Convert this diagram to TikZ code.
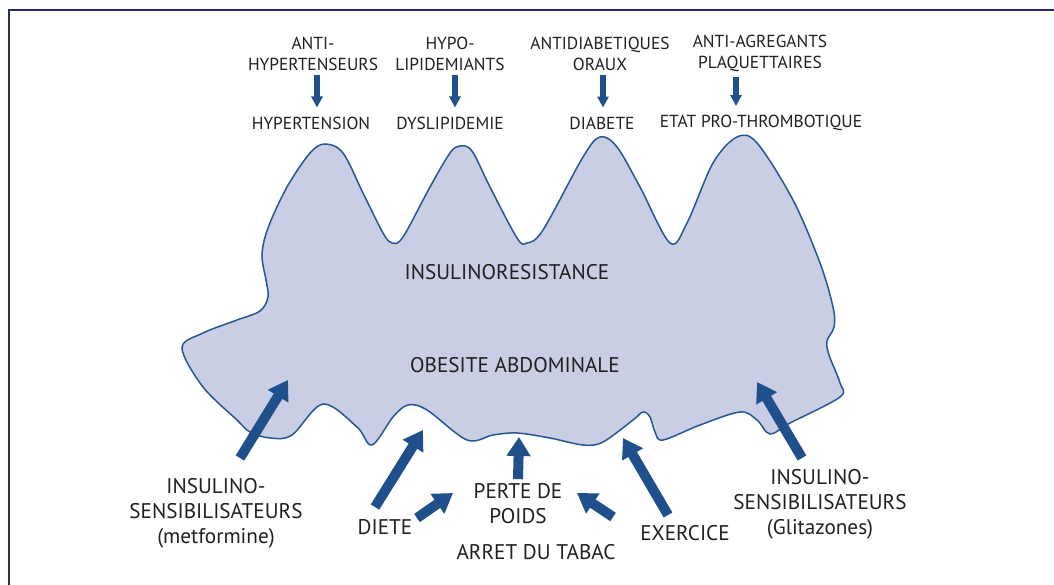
\documentclass[tikz,border=0pt]{standalone}
\usepackage{fontspec}
\setmainfont{PT Sans}
\usetikzlibrary{arrows.meta}
\definecolor{blobfill}{RGB}{201,206,229}
\definecolor{blobline}{RGB}{40,86,148}
\definecolor{arrowblue}{RGB}{31,80,140}
\definecolor{framecol}{RGB}{40,45,100}
\definecolor{txt}{RGB}{35,31,32}
\tikzset{
  toplbl/.style={inner sep=0pt, align=center, text=txt, font=\fontsize{17.4}{21}\selectfont},
  bodylbl/.style={inner sep=0pt, align=center, text=txt, font=\fontsize{21.2}{25}\selectfont},
  smallarrow/.style={draw=arrowblue, line width=6pt, -{Triangle[width=11pt,length=11pt]}},
  bigarrow/.style={draw=arrowblue, line width=10pt, -{Triangle[width=23pt,length=19pt]}},
  blob/.style={fill=blobfill, draw=blobline, line width=1.5pt},
  frameline/.style={draw=framecol, line width=2.5pt}
}
\begin{document}
\begin{tikzpicture}[x=1pt,y=-1pt]
\useasboundingbox (0,0) rectangle (1054,585);
\fill[white] (0,0) rectangle (1054,585);
\draw[frameline] (1054,10) -- (9,10) -- (9,585);

% blob
\draw[blob] plot[smooth cycle, tension=0.55] coordinates {
(182,348) (203,333) (237,320) (260,311) (268,297) (266,280) (262,255) (268,228)
(287,187) (310,153) (325,144) (343,153) (363,193) (383,233) (392,243) (403,237)
(430,187) (450,153) (460,146) (472,151) (490,187) (517,238) (527,243) (543,230)
(583,157) (600,137) (617,147) (640,187) (670,243) (687,223) (713,163) (737,137)
(757,143) (793,200) (820,263) (833,307) (834,327) (827,341) (829,355) (840,383)
(840,397) (790,423) (770,434) (757,420) (740,412) (700,425) (663,440) (655,432)
(650,417) (643,412) (633,420) (603,442) (583,445) (550,438) (517,433) (493,435)
(467,440) (427,410) (408,405) (393,417) (372,445) (357,427) (323,404) (292,435)
(270,438) (250,432) (237,420) (203,387)};

% top labels
\node[toplbl] (t1) at (313,53.5) {ANTI-\\HYPERTENSEURS};
\node[toplbl] (t2) at (450,53.5) {HYPO-\\LIPIDEMIANTS};
\node[toplbl] (t3) at (600,53.5) {ANTIDIABETIQUES\\ORAUX};
\node[toplbl] (t4) at (760,53.5) {ANTI-AGREGANTS\\PLAQUETTAIRES};
\node[toplbl] (d1) at (311,123) {HYPERTENSION};
\node[toplbl] (d2) at (450,123) {DYSLIPIDEMIE};
\node[toplbl] (d3) at (602,123) {DIABETE};
\node[toplbl] (d4) at (761,123) {ETAT PRO-THROMBOTIQUE};

\draw[smallarrow] ([xshift=4pt,yshift=-5pt]t1.south) -- ([xshift=6pt,yshift=9pt]d1.north);
\draw[smallarrow] ([xshift=5pt,yshift=-5pt]t2.south) -- ([xshift=5pt,yshift=9pt]d2.north);
\draw[smallarrow] ([xshift=3pt,yshift=-5pt]t3.south) -- ([xshift=1pt,yshift=9pt]d3.north);
\draw[smallarrow] ([xshift=-24pt,yshift=-5pt]t4.south) -- ([xshift=-25pt,yshift=9pt]d4.north);

% body labels
\node[bodylbl] (ir) at (507,272) {INSULINORESISTANCE};
\node[bodylbl] (ob) at (515,365) {OBESITE ABDOMINALE};
\node[bodylbl] (met) at (216,513) {INSULINO-\\SENSIBILISATEURS\\(metformine)};
\node[bodylbl] (gli) at (820,504) {INSULINO-\\SENSIBILISATEURS\\(Glitazones)};
\node[bodylbl] (diete) at (385,527) {DIETE};
\node[bodylbl] (perte) at (518,503.5) {PERTE DE\\POIDS};
\node[bodylbl] (tabac) at (536,552) {ARRET DU TABAC};
\node[bodylbl] (exer) at (685,533) {EXERCICE};

% arrow ends
\coordinate (a1s) at (240,458); \coordinate (a1e) at (288,380);
\coordinate (a2s) at (375,507); \coordinate (a2e) at (423,430);
\coordinate (a3s) at (417,518); \coordinate (a3e) at (453,493);
\coordinate (a4e) at (519,437);
\coordinate (a5s) at (613,517); \coordinate (a5e) at (577,493);
\coordinate (a6s) at (668,515); \coordinate (a6e) at (623,438);
\coordinate (a7s) at (802,458); \coordinate (a7e) at (757,382);

\draw[bigarrow] (a1s) -- (a1e);
\draw[bigarrow] (a2s) -- (a2e);
\draw[bigarrow] (a3s) -- (a3e);
\draw[bigarrow] ([yshift=4pt]perte.north) -- (a4e);
\draw[bigarrow] (a5s) -- (a5e);
\draw[bigarrow] (a6s) -- (a6e);
\draw[bigarrow] (a7s) -- (a7e);
\end{tikzpicture}
\end{document}
